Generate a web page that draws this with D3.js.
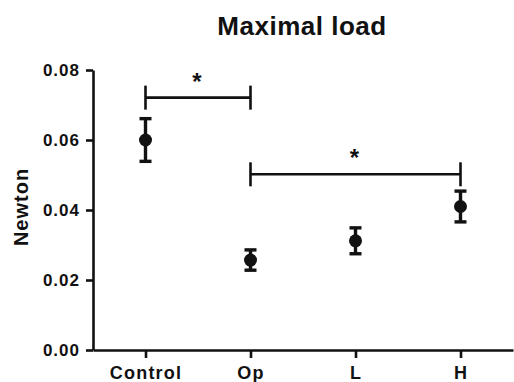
<!DOCTYPE html>
<html>
<head>
<meta charset="utf-8">
<script src="https://cdn.jsdelivr.net/npm/d3@7"></script>
<style>
body { margin: 0; background: #fff; }
text { font-family: "Liberation Sans", Arial, sans-serif; fill: #111; }
</style>
</head>
<body>
<div id="chart"></div>
<script>
"use strict";

var categories = ["Control", "Op", "L", "H"];
var means = [0.0600, 0.0257, 0.0312, 0.0410];
var sems = [0.0061, 0.0029, 0.0037, 0.0044];
var yTicks = [0.00, 0.02, 0.04, 0.06, 0.08];

// significance brackets
var bracketFrom = ["Control", "Op"];
var bracketTo = ["Op", "H"];
var bracketY = [0.0721, 0.0502];
var bracketLabel = ["*", "*"];

var width = 514, height = 382;
var plotLeft = 93, plotRight = 513, plotTop = 70, plotBottom = 350;

var svg = d3.select("#chart").append("svg")
    .attr("width", width)
    .attr("height", height);

var x = d3.scalePoint()
    .domain(categories)
    .range([plotLeft, plotRight])
    .padding(0.5);

var y = d3.scaleLinear()
    .domain([0, 0.08])
    .range([plotBottom, plotTop]);

// title
svg.append("text")
    .attr("x", 302)
    .attr("y", 35)
    .attr("text-anchor", "middle")
    .style("font-size", "26px")
    .style("font-weight", "bold")
    .style("letter-spacing", "0.5px")
    .text("Maximal load");

// y axis
var yAxis = svg.append("g")
    .attr("transform", "translate(" + plotLeft + ",0)")
    .call(d3.axisLeft(y).tickValues(yTicks).tickFormat(d3.format(".2f"))
        .tickSize(7).tickSizeOuter(0).tickPadding(6));

// x axis
var xAxis = svg.append("g")
    .attr("transform", "translate(0," + plotBottom + ")")
    .call(d3.axisBottom(x).tickSize(8).tickSizeOuter(0).tickPadding(8));

[yAxis, xAxis].forEach(function(g) {
    g.select(".domain").attr("stroke", "#111").attr("stroke-width", 2.6);
    g.selectAll(".tick line").attr("stroke", "#111").attr("stroke-width", 2.6);
    g.selectAll(".tick text")
        .style("font-family", "'Liberation Sans', Arial, sans-serif")
        .style("font-weight", "bold")
        .attr("fill", "#111");
});
yAxis.selectAll(".tick text").style("font-size", "17px").style("letter-spacing", "1px");
xAxis.selectAll(".tick text").style("font-size", "18px").style("letter-spacing", "1.2px");

// y label
svg.append("text")
    .attr("transform", "translate(28,207) rotate(-90)")
    .attr("text-anchor", "middle")
    .style("font-size", "20px")
    .style("font-weight", "bold")
    .style("letter-spacing", "1px")
    .text("Newton");

// error bars
var capHalf = 6;
var bars = svg.selectAll("g.bar")
    .data(categories)
    .enter()
    .append("g")
    .attr("class", "bar");

bars.append("line")
    .attr("x1", function(d) { return x(d); })
    .attr("x2", function(d) { return x(d); })
    .attr("y1", function(d, i) { return y(means[i] + sems[i]); })
    .attr("y2", function(d, i) { return y(means[i] - sems[i]); })
    .attr("stroke", "#111")
    .attr("stroke-width", 3.4);

[1, -1].forEach(function(sign) {
    bars.append("line")
        .attr("x1", function(d) { return x(d) - capHalf; })
        .attr("x2", function(d) { return x(d) + capHalf; })
        .attr("y1", function(d, i) { return y(means[i] + sign * sems[i]); })
        .attr("y2", function(d, i) { return y(means[i] + sign * sems[i]); })
        .attr("stroke", "#111")
        .attr("stroke-width", 3.4);
});

bars.append("circle")
    .attr("cx", function(d) { return x(d); })
    .attr("cy", function(d, i) { return y(means[i]); })
    .attr("r", 6.5)
    .attr("fill", "#111");

// brackets
var tickLen = 12;
bracketFrom.forEach(function(from, i) {
    var x1 = x(from), x2 = x(bracketTo[i]), by = y(bracketY[i]);
    var g = svg.append("g")
        .attr("stroke", "#111")
        .attr("stroke-width", 2.6);
    g.append("line").attr("x1", x1).attr("x2", x2).attr("y1", by).attr("y2", by);
    g.append("line").attr("x1", x1).attr("x2", x1).attr("y1", by - tickLen).attr("y2", by + tickLen);
    g.append("line").attr("x1", x2).attr("x2", x2).attr("y1", by - tickLen).attr("y2", by + tickLen);
    svg.append("text")
        .attr("x", (x1 + x2) / 2 - 1)
        .attr("y", by - 22 + 14)
        .attr("text-anchor", "middle")
        .style("font-size", "24px")
        .style("font-weight", "bold")
        .text(bracketLabel[i]);
});
</script>
</body>
</html>
